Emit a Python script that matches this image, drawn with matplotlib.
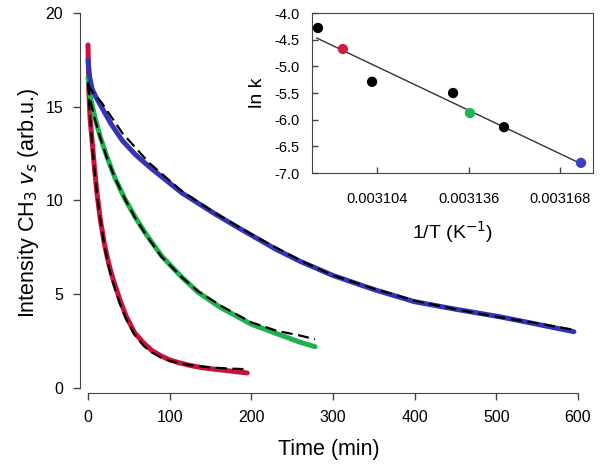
import matplotlib.pyplot as plt
import numpy as np

plt.rcParams['font.family'] = ['Liberation Sans', 'DejaVu Sans']

# decay curves
t_red = [0, 1, 2.5, 5, 8, 11, 15, 20, 25, 30, 39, 47, 57, 68, 78, 90, 100, 111, 125, 140, 155, 175, 195]
y_red = [18.3, 15.9, 14.4, 13.2, 11.7, 10.4, 9.0, 7.7, 6.7, 5.9, 4.7, 3.8, 2.95, 2.4, 2.0, 1.7, 1.5,
         1.35, 1.2, 1.08, 1.0, 0.9, 0.8]
t_red_fit = [0, 2, 5, 8, 11, 15, 20, 25, 30, 39, 47, 57, 68, 78, 90, 100, 111, 125, 140, 155, 175, 195]
y_red_fit = [16.3, 14.8, 13.0, 11.6, 10.3, 9.0, 7.6, 6.55, 5.7, 4.5, 3.65, 2.85, 2.25, 1.9, 1.6, 1.45,
             1.33, 1.22, 1.14, 1.08, 1.03, 1.0]

t_green = [0, 3, 8.6, 15, 23, 33, 45, 58, 66, 72, 90, 115, 135, 162, 200, 231, 259, 278]
y_green = [16.6, 15.5, 14.4, 13.4, 12.35, 11.2, 10.1, 9.1, 8.55, 8.15, 7.05, 5.9, 5.1, 4.3, 3.4, 2.9, 2.45, 2.2]
t_green_fit = [0, 3, 8.6, 15, 23, 33, 45, 58, 72, 90, 115, 135, 162, 200, 231, 259, 278]
y_green_fit = [16.2, 15.3, 14.3, 13.35, 12.3, 11.2, 10.1, 9.05, 8.1, 7.0, 5.9, 5.15, 4.4, 3.5, 3.05, 2.8, 2.6]

t_blue = [0, 2, 5, 10, 17, 28, 42, 58, 75, 95, 115, 135, 155, 180, 204, 230, 260, 300, 350,
          400, 450, 504, 550, 595]
y_blue = [17.5, 16.6, 15.95, 15.5, 14.95, 14.1, 13.2, 12.45, 11.8, 11.1, 10.4, 9.85, 9.3, 8.65, 8.05,
          7.4, 6.75, 6.0, 5.25, 4.6, 4.2, 3.8, 3.4, 3.0]
t_blue_fit = [0, 5, 17, 42, 75, 115, 155, 204, 260, 300, 350, 400, 450, 500, 550, 595]
y_blue_fit = [16.2, 15.8, 15.2, 13.6, 12.0, 10.5, 9.35, 8.1, 6.8, 6.0, 5.3, 4.65, 4.2, 3.8, 3.45, 3.1]

# Arrhenius inset
inv_T = [0.0030834, 0.0030921, 0.0031023, 0.0031306, 0.0031365, 0.0031484, 0.0031753]
ln_k = [-4.28, -4.675, -5.29, -5.50, -5.876, -6.14, -6.81]
pt_colors = ['black', '#d0203f', 'black', 'black', '#22b45a', 'black', '#3a3fbf']
fit_x = [0.003083, 0.0031743]
fit_y = [-4.47, -6.80]

red = '#c8143a'
green = '#1fb050'
blue = '#3434b4'
axcol = '#444444'

fig = plt.figure(figsize=(6.01, 4.70), dpi=100)
ax = fig.add_axes([0.1331, 0.1638, 0.8286, 0.8085])

ax.plot(t_red, y_red, color=red, lw=3.6, solid_capstyle='round')
ax.plot(t_green, y_green, color=green, lw=3.6, solid_capstyle='round')
ax.plot(t_blue, y_blue, color=blue, lw=3.6, solid_capstyle='round')
for tx, ty in [(t_red_fit, y_red_fit), (t_green_fit, y_green_fit), (t_blue_fit, y_blue_fit)]:
    ax.plot(tx, ty, color='black', lw=1.6, dashes=(5, 2.5))

ax.set_xlim(-9.8, 600)
ax.set_ylim(-0.27, 20)
ax.spines['top'].set_visible(False)
ax.spines['right'].set_visible(False)
for s in ['left', 'bottom']:
    ax.spines[s].set_color(axcol)
ax.spines['left'].set_bounds(0, 20)
ax.spines['bottom'].set_bounds(0, 600)
ax.set_xticks([0, 100, 200, 300, 400, 500, 600])
ax.set_yticks([0, 5, 10, 15, 20])
ax.tick_params(direction='out', length=5, width=1, color=axcol, labelsize=11.5, pad=7)
ax.set_xlabel('Time (min)', fontsize=15.5, labelpad=10)
ax.set_ylabel(r'Intensity CH$_3$ $v_s$ (arb.u.)', fontsize=15.5, labelpad=3)

# inset
ins = fig.add_axes([0.5191, 0.6319, 0.4676, 0.3404])
ins.plot(fit_x, fit_y, color='#333333', lw=1.0)
ins.scatter(inv_T, ln_k, c=pt_colors, s=55, zorder=3, edgecolors='none')
ins.set_xlim(0.0030813, 0.0031795)
ins.set_ylim(-7.0, -4.0)
ins.set_xticks([0.003104, 0.003136, 0.003168])
ins.set_xticklabels(['0.003104', '0.003136', '0.003168'])
ins.set_yticks([-4.0, -4.5, -5.0, -5.5, -6.0, -6.5, -7.0])
ins.set_yticklabels(['-4.0', '-4.5', '-5.0', '-5.5', '-6.0', '-6.5', '-7.0'])
for s in ins.spines.values():
    s.set_color(axcol)
ins.tick_params(direction='in', length=4, width=1, color=axcol, labelsize=10.5)
ins.tick_params(axis='y', pad=9)
ins.tick_params(axis='x', pad=14)
ins.set_xlabel(r'1/T (K$^{-1}$)', fontsize=14, labelpad=9)
ins.set_ylabel('ln k', fontsize=14, labelpad=6)

fig.savefig('out.png', dpi=100)
